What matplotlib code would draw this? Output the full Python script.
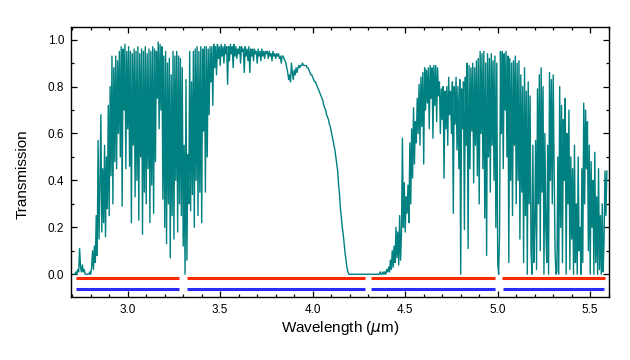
import matplotlib
matplotlib.use("Agg")
import matplotlib.pyplot as plt
import numpy as np
from matplotlib.ticker import MultipleLocator

plt.rcParams["font.family"] = ["Liberation Sans", "DejaVu Sans"]

# ---------------------------------------------------------------------------
# Data (0.005 um sampling)
# ---------------------------------------------------------------------------
WL_STEP = 0.005

# 2.710 - 3.305 um
start_a = 2.710
trans_a = [
    0.00, 0.00, 0.01, 0.00, 0.02, 0.01, 0.11, 0.03, 0.01, 0.04,
    0.01, 0.02, 0.00, 0.00, 0.00, 0.00, 0.00, 0.01, 0.00, 0.03,
    0.10, 0.02, 0.12, 0.05, 0.25, 0.08, 0.57, 0.15, 0.38, 0.68,
    0.18, 0.45, 0.22, 0.55, 0.16, 0.50, 0.28, 0.72, 0.25, 0.80,
    0.42, 0.93, 0.30, 0.88, 0.48, 0.93, 0.45, 0.91, 0.60, 0.95,
    0.50, 0.97, 0.29, 0.96, 0.70, 0.98, 0.45, 0.95, 0.62, 0.97,
    0.46, 0.95, 0.22, 0.94, 0.55, 0.96, 0.33, 0.95, 0.40, 0.97,
    0.23, 0.94, 0.50, 0.96, 0.17, 0.95, 0.35, 0.97, 0.30, 0.94,
    0.45, 0.96, 0.22, 0.95, 0.38, 0.97, 0.26, 0.96, 0.48, 0.95,
    0.75, 0.99, 0.62, 0.98, 0.70, 0.97, 0.32, 0.93, 0.20, 0.95,
    0.13, 0.90, 0.30, 0.92, 0.07, 0.85, 0.25, 0.95, 0.15, 0.93,
    0.40, 0.95, 0.18, 0.93, 0.30, 0.92, 0.25, 0.88, 0.12, 0.55,
]

# 3.310 - 4.355 um
start_b = 3.310
trans_b = [
    0.00, 0.83, 0.06, 0.51, 0.30, 0.95, 0.27, 0.82, 0.34, 0.95,
    0.20, 0.96, 0.40, 0.97, 0.25, 0.95, 0.35, 0.97, 0.22, 0.96,
    0.61, 0.97, 0.35, 0.97, 0.50, 0.96, 0.68, 0.97, 0.82, 0.97,
    0.72, 0.98, 0.88, 0.97, 0.85, 0.98, 0.92, 0.97, 0.89, 0.98,
    0.93, 0.97, 0.90, 0.98, 0.94, 0.97, 0.81, 0.97, 0.91, 0.98,
    0.94, 0.97, 0.88, 0.98, 0.93, 0.97, 0.92, 0.96, 0.94, 0.97,
    0.90, 0.97, 0.95, 0.96, 0.86, 0.97, 0.93, 0.96, 0.91, 0.97,
    0.86, 0.96, 0.93, 0.96, 0.91, 0.96, 0.94, 0.95, 0.90, 0.96,
    0.93, 0.95, 0.91, 0.96, 0.93, 0.95, 0.92, 0.95, 0.94, 0.95,
    0.92, 0.95, 0.93, 0.94, 0.91, 0.95, 0.93, 0.94, 0.92, 0.94,
    0.93, 0.94, 0.92, 0.93, 0.90, 0.93, 0.93, 0.92, 0.91, 0.90,
    0.88, 0.86, 0.83, 0.85, 0.82, 0.90, 0.86, 0.83, 0.87, 0.85,
    0.88, 0.86, 0.88, 0.89, 0.88, 0.89, 0.89, 0.90, 0.89, 0.89,
    0.89, 0.89, 0.88, 0.88, 0.87, 0.86, 0.85, 0.85, 0.84, 0.83,
    0.82, 0.82, 0.81, 0.80, 0.79, 0.78, 0.77, 0.76, 0.75, 0.74,
    0.72, 0.71, 0.70, 0.68, 0.67, 0.66, 0.64, 0.63, 0.61, 0.59,
    0.57, 0.55, 0.53, 0.50, 0.47, 0.44, 0.38, 0.34, 0.28, 0.24,
    0.20, 0.17, 0.13, 0.09, 0.06, 0.03, 0.01, 0.00, 0.00, 0.00,
    0.00, 0.00, 0.00, 0.00, 0.00, 0.00, 0.00, 0.00, 0.00, 0.00,
    0.00, 0.00, 0.00, 0.00, 0.00, 0.00, 0.00, 0.00, 0.00, 0.00,
    0.00, 0.00, 0.00, 0.00, 0.00, 0.00, 0.00, 0.00, 0.00, 0.00,
]

# 4.360 - 5.005 um
start_c = 4.360
trans_c = [
    0.00, 0.01, 0.00, 0.00, 0.01, 0.00, 0.01, 0.00, 0.02, 0.01,
    0.03, 0.01, 0.06, 0.02, 0.10, 0.03, 0.12, 0.05, 0.20, 0.07,
    0.18, 0.04, 0.25, 0.06, 0.18, 0.58, 0.20, 0.39, 0.18, 0.33,
    0.26, 0.38, 0.22, 0.56, 0.30, 0.62, 0.41, 0.71, 0.47, 0.65,
    0.56, 0.75, 0.60, 0.81, 0.55, 0.84, 0.63, 0.86, 0.47, 0.88,
    0.70, 0.87, 0.73, 0.88, 0.62, 0.89, 0.75, 0.88, 0.58, 0.89,
    0.72, 0.89, 0.65, 0.88, 0.76, 0.82, 0.60, 0.79, 0.66, 0.80,
    0.41, 0.78, 0.62, 0.80, 0.55, 0.84, 0.68, 0.78, 0.60, 0.82,
    0.26, 0.80, 0.64, 0.84, 0.53, 0.80, 0.45, 0.83, 0.00, 0.79,
    0.62, 0.82, 0.19, 0.84, 0.55, 0.90, 0.11, 0.89, 0.45, 0.88,
    0.61, 0.90, 0.39, 0.88, 0.55, 0.91, 0.42, 0.92, 0.30, 0.95,
    0.60, 0.94, 0.45, 0.95, 0.24, 0.90, 0.08, 0.94, 0.50, 0.92,
    0.35, 0.94, 0.55, 0.91, 0.40, 0.93, 0.20, 0.90, 0.05, 0.00,
]

# 5.010 - 5.590 um
start_d = 5.010
trans_d = [
    0.17, 0.95, 0.60, 0.95, 0.45, 0.94, 0.70, 0.95, 0.50, 0.93,
    0.05, 0.92, 0.40, 0.90, 0.25, 0.91, 0.55, 0.93, 0.30, 0.90,
    0.40, 0.91, 0.15, 0.85, 0.35, 0.80, 0.05, 0.88, 0.25, 0.78,
    0.00, 0.82, 0.30, 0.76, 0.10, 0.00, 0.55, 0.05, 0.20, 0.57,
    0.02, 0.79, 0.30, 0.85, 0.10, 0.88, 0.35, 0.80, 0.00, 0.60,
    0.20, 0.05, 0.55, 0.00, 0.86, 0.40, 0.83, 0.30, 0.85, 0.45,
    0.10, 0.00, 0.01, 0.50, 0.00, 0.80, 0.20, 0.72, 0.05, 0.66,
    0.40, 0.75, 0.00, 0.60, 0.30, 0.70, 0.02, 0.50, 0.15, 0.45,
    0.00, 0.55, 0.05, 0.30, 0.00, 0.50, 0.10, 0.20, 0.00, 0.45,
    0.05, 0.73, 0.30, 0.70, 0.45, 0.65, 0.10, 0.55, 0.00, 0.48,
    0.20, 0.40, 0.00, 0.52, 0.05, 0.33, 0.00, 0.45, 0.02, 0.25,
    0.00, 0.30, 0.01, 0.15, 0.44, 0.25, 0.44,
]

# band markers below the spectrum (start, end) in um
red_bands = [(2.718, 3.278), (3.321, 4.285), (4.315, 4.988), (5.023, 5.580)]
blue_bands = [(2.722, 3.278), (3.321, 4.285), (4.315, 4.988), (5.030, 5.576)]
RED_LEVEL = -0.016
BLUE_LEVEL = -0.065

TEAL = "#008080"
RED = "#ff2a00"
BLUE = "#2a2aff"


def build_spectrum():
    wl, tr = [], []
    for start, vals in [(start_a, trans_a), (start_b, trans_b),
                        (start_c, trans_c), (start_d, trans_d)]:
        wl.append(start + WL_STEP * np.arange(len(vals)))
        tr.append(np.array(vals))
    return np.concatenate(wl), np.concatenate(tr)


fig = plt.figure(figsize=(6.3, 3.6), dpi=100)
ax = fig.add_axes([71 / 630, 63 / 360, 538 / 630, 270 / 360])

wl, tr = build_spectrum()
ax.plot(wl, tr, color=TEAL, linewidth=1.0)

for x0, x1 in red_bands:
    ax.plot([x0, x1], [RED_LEVEL, RED_LEVEL], color=RED, linewidth=2.2,
            solid_capstyle="butt")
for x0, x1 in blue_bands:
    ax.plot([x0, x1], [BLUE_LEVEL, BLUE_LEVEL], color=BLUE, linewidth=2.2,
            solid_capstyle="butt")

ax.set_xlim(2.6935, 5.6016)
ax.set_ylim(-0.097, 1.054)

ax.xaxis.set_major_locator(MultipleLocator(0.5))
ax.xaxis.set_minor_locator(MultipleLocator(0.1))
ax.yaxis.set_major_locator(MultipleLocator(0.2))
ax.yaxis.set_minor_locator(MultipleLocator(0.1))
ax.xaxis.set_major_formatter(plt.FuncFormatter(lambda v, p: f"{v:.1f}"))
ax.yaxis.set_major_formatter(plt.FuncFormatter(lambda v, p: f"{v:.1f}"))

ax.tick_params(which="both", direction="in", top=True, right=True,
               labelsize=8.5, width=0.9, pad=5)
ax.tick_params(which="major", length=4)
ax.tick_params(which="minor", length=2.5)
for sp in ax.spines.values():
    sp.set_linewidth(1.0)

ax.set_xlabel("Wavelength ($\\mu$m)", fontsize=11)
ax.set_ylabel("Transmission", fontsize=11)
ax.yaxis.set_label_coords(-0.076, 0.455)
ax.xaxis.set_label_coords(0.5, -0.081)
ax.xaxis.label.set_verticalalignment("top")

fig.savefig("out.png", dpi=100)
